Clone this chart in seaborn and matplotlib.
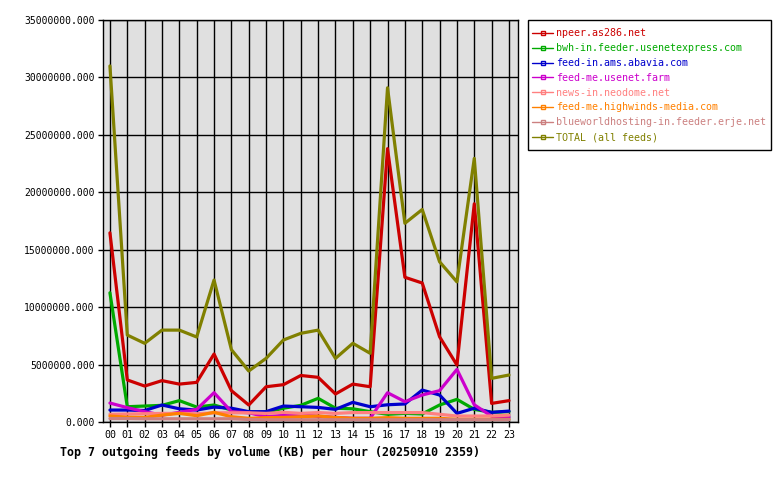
import matplotlib
matplotlib.use("Agg")
import matplotlib.pyplot as plt
from matplotlib.lines import Line2D
from matplotlib.patches import Rectangle
from matplotlib.ticker import FuncFormatter, MultipleLocator
import seaborn as sns
import pandas as pd

hours = [f"{h:02d}" for h in range(24)]

feeds = [
    "npeer.as286.net",
    "bwh-in.feeder.usenetexpress.com",
    "feed-in.ams.abavia.com",
    "feed-me.usenet.farm",
    "news-in.neodome.net",
    "feed-me.highwinds-media.com",
    "blueworldhosting-in.feeder.erje.net",
    "TOTAL (all feeds)",
]
colors = ["#cc0000", "#00aa00", "#0000cc", "#cc00cc", "#ff8080", "#ff8000", "#cc8080", "#808000"]

# values in KB
npeer = [16.47e6, 3.66e6, 3.13e6, 3.60e6, 3.30e6, 3.45e6, 5.92e6, 2.73e6, 1.48e6, 3.07e6, 3.25e6, 4.05e6,
         3.89e6, 2.44e6, 3.30e6, 3.07e6, 23.8e6, 12.6e6, 12.1e6, 7.42e6, 4.96e6, 19.0e6, 1.62e6, 1.86e6]
bwh = [11.25e6, 1.33e6, 1.39e6, 1.45e6, 1.86e6, 1.30e6, 1.48e6, 1.04e6, 0.85e6, 0.85e6, 1.20e6, 1.45e6,
       2.06e6, 1.20e6, 1.15e6, 0.90e6, 0.67e6, 0.75e6, 0.70e6, 1.48e6, 1.97e6, 1.10e6, 0.84e6, 0.90e6]
abavia = [1.04e6, 1.04e6, 1.00e6, 1.48e6, 1.15e6, 1.04e6, 1.30e6, 1.20e6, 0.90e6, 0.90e6, 1.39e6, 1.33e6,
          1.27e6, 1.10e6, 1.71e6, 1.33e6, 1.50e6, 1.57e6, 2.78e6, 2.35e6, 0.75e6, 1.20e6, 0.84e6, 0.95e6]
farm = [1.65e6, 1.25e6, 0.90e6, 0.60e6, 0.84e6, 1.10e6, 2.55e6, 0.90e6, 0.80e6, 0.46e6, 0.58e6, 0.60e6,
        0.50e6, 0.40e6, 0.32e6, 0.32e6, 2.55e6, 1.77e6, 2.35e6, 2.73e6, 4.58e6, 1.50e6, 0.50e6, 0.42e6]
neodome = [0.67e6, 0.70e6, 0.72e6, 0.75e6, 0.75e6, 0.72e6, 0.80e6, 0.80e6, 0.80e6, 0.75e6, 0.84e6, 0.75e6,
           0.82e6, 0.75e6, 0.82e6, 0.82e6, 0.82e6, 0.82e6, 0.82e6, 0.67e6, 0.52e6, 0.52e6, 0.52e6, 0.60e6]
highwinds = [0.52e6, 0.42e6, 0.40e6, 0.60e6, 0.75e6, 0.55e6, 0.84e6, 0.46e6, 0.32e6, 0.38e6, 0.40e6, 0.46e6,
             0.52e6, 0.40e6, 0.32e6, 0.32e6, 0.38e6, 0.32e6, 0.32e6, 0.32e6, 0.23e6, 0.23e6, 0.23e6, 0.23e6]
blueworld = [0.30e6, 0.30e6, 0.28e6, 0.28e6, 0.28e6, 0.28e6, 0.28e6, 0.28e6, 0.22e6, 0.20e6, 0.20e6, 0.20e6,
             0.20e6, 0.20e6, 0.20e6, 0.20e6, 0.20e6, 0.20e6, 0.20e6, 0.20e6, 0.20e6, 0.20e6, 0.20e6, 0.20e6]
total = [31.0e6, 7.57e6, 6.85e6, 8.0e6, 8.0e6, 7.4e6, 12.36e6, 6.3e6, 4.44e6, 5.54e6, 7.14e6, 7.72e6,
         8.0e6, 5.54e6, 6.85e6, 5.98e6, 29.1e6, 17.3e6, 18.5e6, 13.95e6, 12.2e6, 22.95e6, 3.8e6, 4.09e6]

series = [npeer, bwh, abavia, farm, neodome, highwinds, blueworld, total]

rows = []
for name, vals in zip(feeds, series):
    for i, v in enumerate(vals):
        rows.append({"feed": name, "hour": i, "kb": v})
df = pd.DataFrame(rows)

sns.set_theme(style="white")
plt.rcParams["font.family"] = ["DejaVu Sans Mono", "DejaVu Sans"]

fig = plt.figure(figsize=(7.8, 4.8), dpi=100)
ax = fig.add_axes([103 / 780, 1 - 422 / 480, 415 / 780, 402 / 480])
ax.set_facecolor("#e0e0e0")

sns.lineplot(data=df, x="hour", y="kb", hue="feed", hue_order=feeds, palette=colors,
             linewidth=2.3, ax=ax, legend=False, sort=False)
ax.set_xlim(-0.4, 23.52)
ax.set_ylim(0, 35e6)
ax.yaxis.set_major_locator(MultipleLocator(5e6))
ax.yaxis.set_major_formatter(FuncFormatter(lambda v, p: f"{v:.3f}"))
ax.set_xticks(range(24))
ax.set_xticklabels(hours)
ax.grid(True, color="black", linewidth=1.0)
ax.set_axisbelow(True)
for s in ax.spines.values():
    s.set_color("black")
    s.set_linewidth(1.0)
ax.tick_params(axis="y", which="major", length=3.6, width=1, color="black", pad=2.5,
               labelsize=7, labelcolor="black", direction="out", left=True)
ax.tick_params(axis="x", which="major", length=3.6, width=1, color="black", pad=2.5,
               labelsize=7.2, labelcolor="black", direction="out", bottom=True)
ax.set_xlabel("")
ax.set_ylabel("")

fig.text(60 / 780, 1 - 452 / 480, "Top 7 outgoing feeds by volume (KB) per hour (20250910 2359)",
         fontsize=8.4, fontweight="bold", color="black", va="center", ha="left")

handles = [Line2D([0], [0], color=c, linewidth=1.0, marker="s", markersize=2.5,
                  markerfacecolor="none", markeredgecolor=c) for c in colors]
leg = fig.legend(handles, feeds, loc="upper left", bbox_to_anchor=(532 / 780, 1 - 28.5 / 480),
                 frameon=False, fontsize=7.2, handlelength=2.1, handletextpad=0.3,
                 labelspacing=0.48, borderpad=0, borderaxespad=0, numpoints=1)
for t, c in zip(leg.get_texts(), colors):
    t.set_color(c)
fig.patches.append(Rectangle((528 / 780, 1 - 150 / 480), 243 / 780, 130 / 480,
                             transform=fig.transFigure, fill=False, edgecolor="black",
                             linewidth=1.0, zorder=5))

fig.savefig("out.png", dpi=100, facecolor="white")
